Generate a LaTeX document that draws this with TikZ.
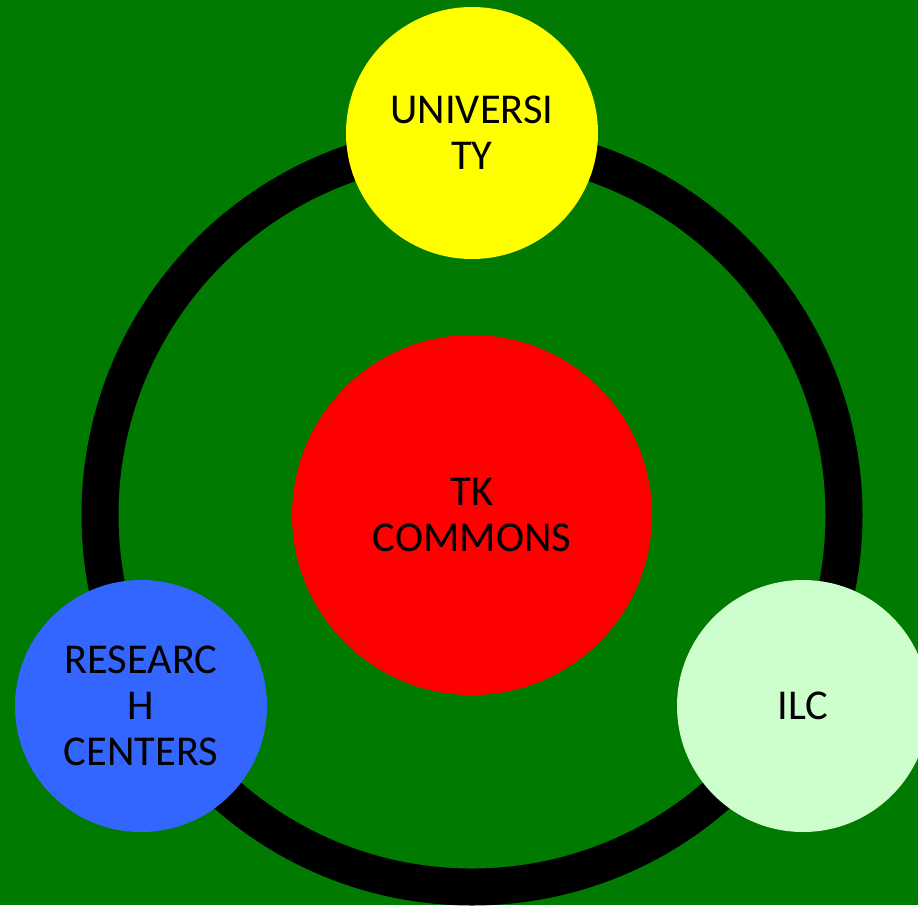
\documentclass[tikz,border=0pt]{standalone}
\usepackage{fontspec}
\setmainfont{Carlito}
\definecolor{bggreen}{RGB}{0,122,0}
\definecolor{uniyellow}{RGB}{255,255,0}
\definecolor{tkred}{RGB}{255,0,0}
\definecolor{resblue}{RGB}{51,102,255}
\definecolor{ilcgreen}{RGB}{204,255,204}
\begin{document}
\begin{tikzpicture}[x=1pt,y=-1pt,
  bubble/.style={circle,inner sep=0pt,align=center,text=black,
    font=\fontsize{42.5}{46}\selectfont}]
\fill[bggreen] (0,0) rectangle (918,905);
\useasboundingbox (0,0) rectangle (918,905);
\coordinate (c) at (472,515);
\draw[line width=37pt,black] (c) circle[radius=372];
\node[bubble,fill=tkred,minimum size=360pt] (tk) at (c) {TK\\COMMONS};
\node[bubble,fill=uniyellow,minimum size=252pt] (uni) at (472,133) {UNIVERSI\\TY};
\node[bubble,fill=resblue,minimum size=252pt] (res) at (141,706) {RESEARC\\H\\CENTERS};
\node[bubble,fill=ilcgreen,minimum size=252pt] (ilc) at (803,706) {ILC};
\end{tikzpicture}
\end{document}
